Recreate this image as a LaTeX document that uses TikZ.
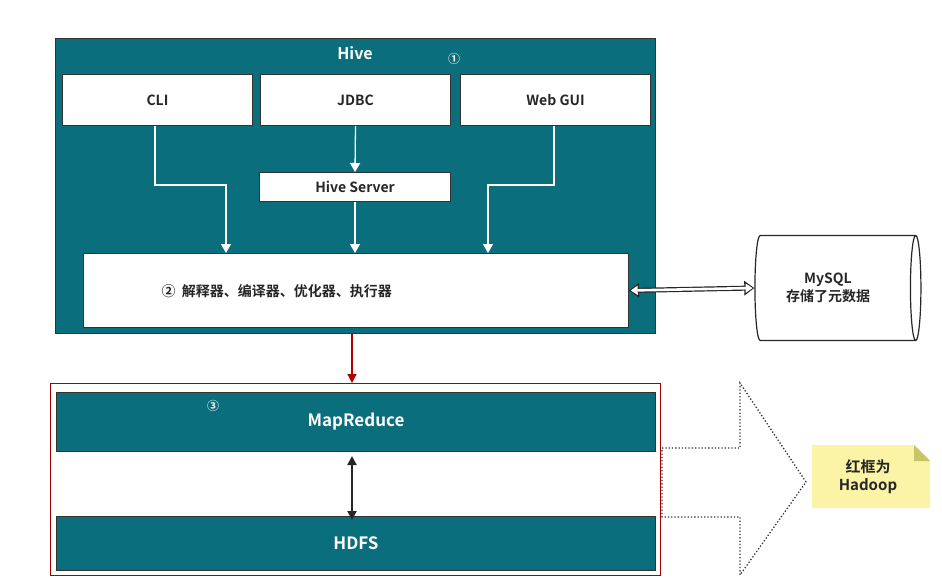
\documentclass[tikz,border=0pt]{standalone}
\usepackage{fontspec}
\setmainfont{Noto Sans CJK SC}[BoldFont={Noto Sans CJK SC Bold}]
\usetikzlibrary{shapes.geometric,arrows.meta}
\definecolor{teal1}{HTML}{0B6E7C}
\definecolor{note}{HTML}{FBF3A6}
\begin{document}
\begin{tikzpicture}[x=1pt,y=-1pt,font=\bfseries\fontsize{14}{16}\selectfont,
  wbox/.style={draw=black!80,line width=1pt,fill=white,text=black!85,inner sep=0},
  tbar/.style={draw=black!80,line width=1pt,fill=teal1,text=white,inner sep=0},
  warr/.style={draw=white,line width=1.3pt,-{Triangle[open,fill=white,length=9pt,width=10pt]}}]
\useasboundingbox (0,0) rectangle (942,578);
\node[tbar,minimum width=600,minimum height=295,anchor=north west] (hive) at (55,38) {};
\node[text=white,font=\bfseries\fontsize{16}{18}\selectfont] (hivet) at (355,53) {Hive};
\node[text=white,font=\bfseries\fontsize{12}{14}\selectfont] (c1) at (454,59) {①};
\node[wbox,minimum width=190,minimum height=51,anchor=north west] (cli) at (62,74) {CLI};
\node[wbox,minimum width=190,minimum height=51,anchor=north west] (jdbc) at (260,74) {JDBC};
\node[wbox,minimum width=190,minimum height=51,anchor=north west] (web) at (460,74) {Web GUI};
\node[wbox,minimum width=191,minimum height=29,anchor=north west] (hs) at (259,172) {Hive Server};
\node[wbox,minimum width=545,minimum height=74,anchor=north west] (exe) at (83,253) {};
\node[text=black!85,anchor=west] (exet) at (158,291) {②\ \ 解释器、编译器、优化器、执行器};
\coordinate (cl1) at (155,185);\coordinate (cl2) at (226,185);
\coordinate (wb1) at (554,185);\coordinate (wb2) at (488,185);
\draw[warr] (cli.south -| 155,0) -- (cl1) -- (cl2) -- (cl2 |- exe.north);
\draw[warr] (jdbc.south) -- (hs.north);
\draw[warr] (hs.south) -- (exe.north -| hs.south);
\draw[warr] (web.south -| 554,0) -- (wb1) -- (wb2) -- (wb2 |- exe.north);
\node[cylinder,shape border rotate=0,draw=black!85,line width=1.2pt,aspect=0.35,minimum width=105,minimum height=166,inner sep=0,align=center,text=black!85] (mysql) at (835,288) {\hspace*{-14pt}\shortstack{MySQL\\存储了元数据}};
\draw[line width=5pt,draw=black!85,{Triangle[length=10pt,width=14pt]}-{Triangle[length=10pt,width=14pt]}] (exe.east) -- (mysql.west);
\draw[line width=2.6pt,draw=white,shorten <=1.7pt,shorten >=1.7pt,{Triangle[length=7pt,width=9pt,fill=white]}-{Triangle[length=7pt,width=9pt,fill=white]}] (exe.east) -- (mysql.west);
\node[draw=red!65!black,line width=1.3pt,minimum width=610,minimum height=192,anchor=north west,inner sep=0] (hadoop) at (50,383) {};
\node[tbar,minimum width=599,minimum height=59,anchor=north west,font=\bfseries\fontsize{17}{19}\selectfont] (mr) at (56,392) {MapReduce};
\node[tbar,minimum width=599,minimum height=54,anchor=north west,font=\bfseries\fontsize{17}{19}\selectfont] (hdfs) at (56,516) {HDFS};
\node[text=white,font=\bfseries\fontsize{12}{14}\selectfont] (c3) at (213,406) {③};
\draw[red!70!black,line width=1.3pt,-{Triangle[length=9pt,width=9pt]}] (hive.south -| 352,0) -- (hadoop.north -| 352,0);
\draw[black!85,line width=2pt,{Triangle[length=9pt,width=9pt]}-{Triangle[length=9pt,width=9pt]}] (mr.south -| 352,0) ++(0,4) -- ([yshift=-4]hdfs.north -| 352,0);
\coordinate (a1) at (662,448);\coordinate (a2) at (740,448);\coordinate (a3) at (740,383);
\coordinate (a4) at (806,482);\coordinate (a5) at (740,575);\coordinate (a6) at (740,517);\coordinate (a7) at (662,517);
\draw[black!80,line width=1.3pt,dotted] (a1) -- (a2) -- (a3) -- (a4) -- (a5) -- (a6) -- (a7) -- cycle;
\fill[note] (812,445) -- (914,445) -- (930,461) -- (930,508) -- (812,508) -- cycle;
\fill[note!60!olive] (914,445) -- (930,461) -- (914,461) -- cycle;
\node[align=center,text=black!85,font=\bfseries\fontsize{15}{18}\selectfont] (nt) at (868,477) {红框为\\Hadoop};
\end{tikzpicture}
\end{document}
